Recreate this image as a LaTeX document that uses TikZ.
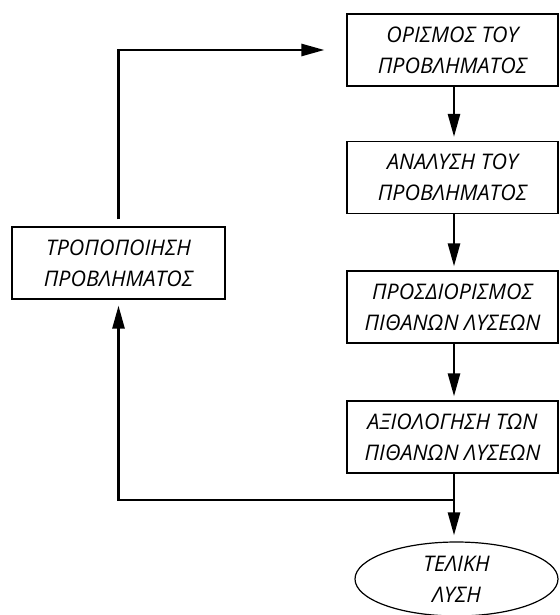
\documentclass[tikz,border=0pt]{standalone}
\usepackage{fontspec}
\setmainfont{Open Sans}
\usetikzlibrary{arrows.meta,shapes.geometric}
\begin{document}
\begin{tikzpicture}[x=1pt,y=-1pt,
  txt/.style={font=\fontsize{21.5}{31}\selectfont\itshape, align=center, text=black},
  stepbox/.style={txt, draw, line width=1.2pt, minimum width=211pt, minimum height=72pt, inner sep=0pt},
  endell/.style={txt, draw, ellipse, line width=1.2pt, minimum width=203pt, minimum height=74pt, inner sep=0pt},
  arr/.style={line width=2.6pt, -{Triangle[length=23pt,width=12pt]}}
]
\useasboundingbox (0,0) rectangle (559,615);
\node[stepbox] (b1) at (452.5,50) {ΟΡΙΣΜΟΣ ΤΟΥ\\ΠΡΟΒΛΗΜΑΤΟΣ};
\node[stepbox] (b2) at (452.5,177.5) {ΑΝΑΛΥΣΗ ΤΟΥ\\ΠΡΟΒΛΗΜΑΤΟΣ};
\node[stepbox] (b3) at (452.5,307) {ΠΡΟΣΔΙΟΡΙΣΜΟΣ\\ΠΙΘΑΝΩΝ ΛΥΣΕΩΝ};
\node[stepbox] (b4) at (452.5,437) {ΑΞΙΟΛΟΓΗΣΗ ΤΩΝ\\ΠΙΘΑΝΩΝ ΛΥΣΕΩΝ};
\node[stepbox, minimum width=213pt] (tr) at (118.5,263) {ΤΡΟΠΟΠΟΙΗΣΗ\\ΠΡΟΒΛΗΜΑΤΟΣ};
\node[endell] (end) at (456.5,579) {ΤΕΛΙΚΗ\\ΛΥΣΗ};
\coordinate (j) at (454,500);
\draw[arr, shorten >=4pt] ([xshift=1.5pt]b1.south) -- ([xshift=1.5pt]b2.north);
\draw[arr, shorten >=4pt] ([xshift=1.5pt]b2.south) -- ([xshift=1.5pt]b3.north);
\draw[arr, shorten >=4pt] ([xshift=1.5pt]b3.south) -- ([xshift=1.5pt]b4.north);
\draw[arr, shorten >=6pt] ([xshift=1.5pt]b4.south) -- (end.north -| j);
\draw[arr, shorten >=6pt] (j) -| (tr.south);
\draw[arr, shorten <=7pt, shorten >=22pt] (tr.north) |- (b1.west);
\end{tikzpicture}
\end{document}
